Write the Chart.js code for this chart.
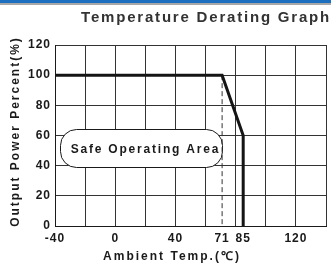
<!DOCTYPE html>
<html>
<head>
<meta charset="utf-8">
<script src="https://cdn.jsdelivr.net/npm/chart.js@4.4.1/dist/chart.umd.min.js"></script>
<style>
  html, body { margin: 0; padding: 0; background: #fff; }
  #wrap { width: 331px; height: 267px; }
</style>
</head>
<body>
<div id="wrap"><canvas id="deratingChart" width="331" height="267"></canvas></div>
<script>
// Derating curve (ambient temp -> output power %)
const curveTemps = [-40, 71, 85, 85];
const curvePower = [100, 100, 60, 0];
// dashed guide at the rated temperature
const guideTemps = [71, 71];
const guidePower = [100, 0];

// axis ticks
const xGridValues = [-40, -20, 0, 20, 40, 60, 71, 80, 85, 100, 120, 140];
const xTickLabels = [-40, 0, 40, 71, 85, 120];
const xNoGrid = [71, 85];
const yTickValues = [0, 20, 40, 60, 80, 100, 120];

// safe area label box (in data units)
const safeBoxX = [-37, 70.5];
const safeBoxY = [39, 64];

const chartTitle = 'Temperature Derating Graph';
const xTitle = 'Ambient Temp.(\u2103)';
const yTitle = 'Output Power Percent(%)';
const safeLabel = 'Safe Operating Area';

const FONT = "'Liberation Sans', Arial, sans-serif";
Chart.defaults.font.family = FONT;
Chart.defaults.color = '#222';

const decorPlugin = {
    id: 'decor',
    beforeDraw(chart) {
        const c = chart.ctx;
        c.save();
        c.fillStyle = '#fff';
        c.fillRect(0, 0, chart.width, chart.height);
        // header band
        c.fillStyle = '#1b6fbe';
        c.fillRect(0, 0, chart.width, 3);
        c.fillStyle = '#a8a8a8';
        c.fillRect(0, 3, chart.width, 2);
        c.restore();
        c.letterSpacing = '1px';
    },
    beforeDatasetsDraw(chart) {
        const c = chart.ctx;
        const xs = chart.scales.x, ys = chart.scales.y;
        const x0 = xs.getPixelForValue(safeBoxX[0]);
        const x1 = xs.getPixelForValue(safeBoxX[1]);
        const y0 = ys.getPixelForValue(safeBoxY[1]);
        const y1 = ys.getPixelForValue(safeBoxY[0]);
        c.save();
        c.beginPath();
        c.roundRect(Math.round(x0) + 0.5, Math.round(y0) + 0.5, Math.round(x1 - x0), Math.round(y1 - y0), 16);
        c.fillStyle = '#fff';
        c.fill();
        c.strokeStyle = '#1a1a1a';
        c.lineWidth = 1;
        c.stroke();
        c.fillStyle = '#1a1a1a';
        c.font = 'bold 12px ' + FONT;
        c.letterSpacing = '1.8px';
        c.textAlign = 'center';
        c.textBaseline = 'middle';
        c.fillText(safeLabel, (x0 + x1) / 2 + 5, (y0 + y1) / 2 + 1);
        c.restore();
    },
    afterDraw(chart) {
        const c = chart.ctx;
        const area = chart.chartArea;
        c.save();
        c.fillStyle = '#333';
        c.font = 'bold 15px ' + FONT;
        c.letterSpacing = '1.8px';
        c.textAlign = 'right';
        c.textBaseline = 'alphabetic';
        c.fillText(chartTitle, chart.width, 22);

        c.fillStyle = '#1a1a1a';
        c.font = 'bold 12px ' + FONT;
        c.letterSpacing = '2px';
        c.textAlign = 'center';
        c.textBaseline = 'middle';
        c.fillText(xTitle, 172, 257);

        c.translate(16, (area.top + area.bottom) / 2 - 4);
        c.rotate(-Math.PI / 2);
        c.fillText(yTitle, 0, 0);
        c.restore();
    }
};

const ctx = document.getElementById('deratingChart').getContext('2d');

new Chart(ctx, {
    type: 'scatter',
    data: {
        datasets: [
            {
                data: guideTemps.map((t, i) => ({ x: t, y: guidePower[i] })),
                showLine: true,
                borderColor: '#333',
                borderWidth: 1,
                borderDash: [5, 3],
                pointRadius: 0,
                order: 2
            },
            {
                data: curveTemps.map((t, i) => ({ x: t, y: curvePower[i] })),
                showLine: true,
                borderColor: '#151515',
                borderWidth: 3,
                borderJoinStyle: 'miter',
                pointRadius: 0,
                tension: 0,
                order: 1
            }
        ]
    },
    options: {
        responsive: false,
        animation: false,
        devicePixelRatio: 1,
        layout: { padding: { top: 45, right: 4, left: 0, bottom: 0 } },
        plugins: {
            legend: { display: false },
            tooltip: { enabled: false },
            title: { display: false }
        },
        scales: {
            x: {
                type: 'linear',
                min: -40,
                max: 140,
                afterBuildTicks: (scale) => {
                    scale.ticks = xGridValues.map(v => ({ value: v }));
                },
                afterFit: (scale) => { scale.height = 41; },
                ticks: {
                    autoSkip: false,
                    maxRotation: 0,
                    padding: 5,
                    color: '#1a1a1a',
                    font: { size: 12, weight: 'bold' },
                    callback: (v) => xTickLabels.includes(v) ? String(v) : ''
                },
                grid: {
                    drawTicks: false,
                    color: (c) => xNoGrid.includes(c.tick && c.tick.value) ? 'rgba(0,0,0,0)' : '#333',
                    lineWidth: 1
                },
                border: { color: '#1a1a1a', width: 1 }
            },
            y: {
                type: 'linear',
                min: 0,
                max: 120,
                afterBuildTicks: (scale) => {
                    scale.ticks = yTickValues.map(v => ({ value: v }));
                },
                afterFit: (scale) => { scale.width = 55; },
                ticks: {
                    padding: 4,
                    color: '#1a1a1a',
                    font: { size: 12, weight: 'bold' }
                },
                grid: {
                    drawTicks: false,
                    color: '#333',
                    lineWidth: 1
                },
                border: { color: '#1a1a1a', width: 1 }
            }
        }
    },
    plugins: [decorPlugin]
});
</script>
</body>
</html>
